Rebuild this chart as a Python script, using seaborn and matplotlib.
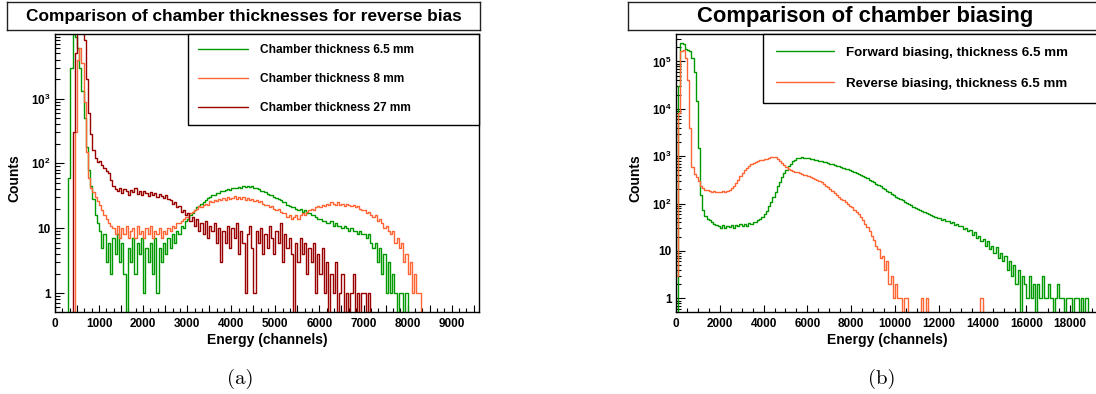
import numpy as np
import matplotlib
matplotlib.use('Agg')
import matplotlib.pyplot as plt
from matplotlib.ticker import MultipleLocator, LogLocator, FuncFormatter, NullFormatter
import seaborn as sns

# ---- data ----
# panel (a): 50-channel bins from 0 to 9700
bin_a = 50
green_a = ([0] * 6 +
           [60, 3000, 12000, 9000, 6000, 3000, 1300, 500, 180, 80, 45, 28, 16, 12,
            9, 5, 8, 3, 6, 2, 7, 4, 8, 3, 6, 2, 0, 5, 3, 7, 2, 6, 4, 7,
            1, 5, 3, 6, 2, 7, 1, 5, 3, 6, 4, 7, 5, 8, 6, 9, 8, 11, 10, 13,
            14, 16, 17, 19, 21, 22, 24, 25, 27, 29, 30, 32, 33, 35, 35, 37,
            38, 39, 40, 39, 41, 42, 41, 43, 42, 44, 43, 45, 43, 44, 42, 41,
            40, 38, 37, 36, 34, 33, 32, 30, 29, 28, 27, 25, 25, 23, 22, 21,
            21, 20, 19, 20, 18, 19, 17, 17, 16, 16, 15, 14, 14, 13, 13, 12,
            12, 13, 11, 12, 11, 11, 10, 11, 10, 9, 10, 9, 9, 8, 9, 8,
            8, 7, 8, 6, 5, 6, 3, 5, 2, 4, 1, 3, 1, 2, 1, 0, 1, 1, 0, 1] +
           [0] * 34)
orange_a = ([0] * 9 +
            [300, 4000, 6000, 3500, 900, 150, 60, 42, 36, 30, 26,
             23, 19, 16, 14, 12, 11, 10,
             8, 11, 7, 10, 8, 11, 7, 9, 10, 7, 11, 8, 9, 7, 10, 8, 11, 7,
             9, 8, 10, 7, 9, 8, 10,
             9, 11, 10, 12, 12, 13, 14, 15, 15, 17, 18, 19, 20, 22, 21, 23,
             24, 23, 26, 25, 27, 26, 28, 27, 29, 27, 30, 28, 29, 31, 28, 30,
             28, 30, 27, 29, 27, 28, 26, 27, 25, 26, 24, 23, 23, 21, 22, 20,
             19, 20, 18, 17, 17, 15, 16, 14, 15, 16, 14, 16, 17, 16, 18, 19,
             20, 19, 21, 22, 21, 23, 22, 24, 23, 25, 24, 23, 25, 23, 24, 22,
             24, 23, 22, 23, 21, 22, 20, 19, 19, 17, 18, 16, 15, 16, 13, 14,
             12, 10, 11, 9, 8, 9, 6, 7, 5, 6, 3, 4, 2, 3, 1, 2, 1, 1] +
            [0] * 28)
red_a = ([0] * 8 +
         [300, 5000, 15000, 15000, 15000, 8000, 2000, 600, 280, 160, 120, 105,
          110, 95, 85, 75, 70, 55, 45, 40,
          38, 42, 35, 40, 37, 33, 39, 36, 41, 34, 38, 32, 37, 35, 31, 36,
          33, 35, 30, 34, 31, 29, 32, 28,
          27, 24, 25, 21, 22, 18, 19, 16, 17, 13, 15, 11, 14, 9, 12, 8,
          13, 7, 11, 9, 12, 6, 10, 3, 9, 6, 11, 5, 10, 7, 12, 4,
          9, 6, 1, 8, 11, 5, 1, 9, 6, 10, 4, 8, 5, 11, 7, 4,
          9, 6, 12, 3, 8, 5, 7, 4, 0, 6, 3, 7, 4, 6, 2, 5,
          3, 6, 1, 4, 2, 5, 1, 3, 0, 2, 1, 3, 0, 1, 2, 0,
          1, 0, 1, 2, 0, 1, 0, 1, 1, 0, 1] +
         [0] * 51)
labels_a = ['Chamber thickness 6.5 mm', 'Chamber thickness 8 mm', 'Chamber thickness 27 mm']

# panel (b): 100-channel bins from 0 to 19300
bin_b = 100
forward_b = [0, 30000, 250000, 230000, 180000, 175000, 170000, 120000, 60000, 15000,
             1500, 150, 75, 55, 48, 44, 40, 38, 36, 34,
             31, 35, 30, 34, 32, 36, 31, 35, 33, 37,
             34, 38, 33, 39, 37, 41, 40, 44, 47, 52,
             60, 70, 88, 110, 140, 180, 230, 290, 360, 440,
             520, 610, 700, 780, 850, 900, 930, 940, 935, 920,
             905, 890, 870, 850, 830, 810, 790, 770, 745, 720,
             690, 670, 650, 630, 610, 590, 570, 550, 525, 500,
             480, 460, 440, 420, 400, 380, 360, 340, 320, 300,
             280, 262, 245, 230, 215, 200, 188, 175, 162, 150,
             140, 132, 124, 117, 110, 104, 97, 92, 86, 82,
             78, 74, 70, 66, 64, 60, 58, 54, 52, 50,
             49, 45, 47, 42, 43, 39, 40, 35, 37, 33,
             34, 29, 31, 26, 28, 22, 25, 19, 21, 16,
             18, 13, 16, 11, 13, 9, 12, 7, 9, 6,
             8, 4, 6, 3, 5, 2, 4, 0, 3, 2,
             1, 3, 1, 2, 0, 2, 1, 3, 1, 1,
             2, 1, 0, 1, 2, 1, 1, 0, 1, 1,
             1, 0, 1, 1, 0, 1, 0, 1, 0, 0,
             0, 0, 0]
reverse_b = ([3, 8000, 170000, 175000, 120000, 40000, 4000, 600, 420, 360,
              300, 240, 210, 195, 190, 182, 178, 185, 175, 180,
              176, 182, 178, 185, 195, 210, 235, 270, 320, 380,
              440, 500, 560, 620, 680, 720, 760, 790, 820, 840,
              860, 890, 930, 960, 970, 940, 880, 800, 720, 650,
              590, 550, 520, 495, 475, 455, 440, 425, 410, 395,
              380, 365, 350, 335, 315, 295, 280, 260, 240, 220,
              200, 185, 168, 150, 138, 128, 118, 108, 98, 90,
              85, 75, 66, 60, 52, 44, 38, 32, 26, 21,
              17, 13, 11, 7, 8, 4, 6, 2, 3, 1,
              2, 1, 1, 0, 1, 1] +
             [0] * 6 + [1, 0, 1] + [0] * 24 + [1] + [0] * 53)
labels_b = ['Forward biasing, thickness 6.5 mm', 'Reverse biasing, thickness 6.5 mm']

GREEN = '#009900'
ORANGE = '#ff6633'
DARKRED = '#990000'

sns.set_theme(style='white')
plt.rcParams['font.family'] = ['Liberation Sans', 'DejaVu Sans']
plt.rcParams['font.weight'] = 'bold'
plt.rcParams['text.color'] = 'black'
plt.rcParams['axes.labelcolor'] = 'black'
plt.rcParams['xtick.color'] = 'black'
plt.rcParams['ytick.color'] = 'black'
plt.rcParams['mathtext.fontset'] = 'custom'
plt.rcParams['mathtext.rm'] = 'Liberation Sans:bold'
plt.rcParams['mathtext.bf'] = 'Liberation Sans:bold'
plt.rcParams['mathtext.default'] = 'bf'

W, H = 1096, 394
fig = plt.figure(figsize=(W / 100, H / 100), dpi=100)
fig.patch.set_facecolor('white')


def px_box(x0, y0, x1, y1):
    return [x0 / W, 1 - y1 / H, (x1 - x0) / W, (y1 - y0) / H]


def draw_hist(ax, counts, width, color, label):
    centers = np.arange(len(counts)) * width + width / 2
    sns.lineplot(x=centers, y=np.array(counts, dtype=float), ax=ax, color=color,
                 lw=1.0, drawstyle='steps-mid', label=label, legend=False)


def log_label(v, pos):
    e = int(round(np.log10(v)))
    if e == 0:
        return '1'
    if e == 1:
        return '10'
    return r'$10^{%d}$' % e


def style_axes(ax, ylim, xmax, major, minor, label_every):
    ax.set_yscale('log', nonpositive='clip')
    ax.set_ylim(*ylim)
    ax.set_xlim(0, xmax)
    ax.yaxis.set_major_locator(LogLocator(base=10, numticks=12))
    ax.yaxis.set_minor_locator(LogLocator(base=10, subs=np.arange(2, 10), numticks=12))
    ax.yaxis.set_major_formatter(FuncFormatter(log_label))
    ax.yaxis.set_minor_formatter(NullFormatter())
    ax.xaxis.set_major_locator(MultipleLocator(major))
    ax.xaxis.set_minor_locator(MultipleLocator(minor))
    ax.xaxis.set_major_formatter(FuncFormatter(
        lambda v, p: '%d' % round(v) if round(v) % label_every == 0 else ''))
    ax.tick_params(axis='both', which='both', direction='in', top=False, right=False,
                   bottom=True, left=True, labelsize=8.5, color='black', labelcolor='black',
                   width=0.8)
    ax.tick_params(axis='y', which='major', length=6.5, pad=3)
    ax.tick_params(axis='y', which='minor', length=3.6)
    ax.tick_params(axis='x', which='major', length=5, pad=4)
    ax.tick_params(axis='x', which='minor', length=2.8)
    for s in ax.spines.values():
        s.set_color('black')
        s.set_linewidth(1.0)
    ax.set_xlabel('Energy (channels)', fontsize=10, fontweight='bold', color='black')
    ax.set_ylabel('Counts', fontsize=10, fontweight='bold', color='black')
    ax.xaxis.set_label_coords(0.5, -0.075)
    ax.xaxis.label.set_va('top')


def title_box(rect, text, size):
    t = fig.add_axes(rect)
    t.set_xticks([])
    t.set_yticks([])
    for s in t.spines.values():
        s.set_color('#222222')
        s.set_linewidth(1.0)
    t.text(0.5, 0.47, text, ha='center', va='center', fontsize=size, fontweight='bold',
           color='black', transform=t.transAxes)


# ---- panel (a) ----
ax_a = fig.add_axes(px_box(55, 34, 479, 312))
for counts, col, lab in zip([green_a, orange_a, red_a], [GREEN, ORANGE, DARKRED], labels_a):
    draw_hist(ax_a, counts, bin_a, col, lab)
style_axes(ax_a, (0.51, 9.9e3), 9620, 500, 500 / 3, 1000)
ax_a.yaxis.set_label_coords(-0.08, 0.48)
leg = ax_a.legend(loc='upper left', bbox_to_anchor=(133 / 424, 0, 291 / 424, 1), mode='expand',
                  borderaxespad=0, fancybox=False, framealpha=1, edgecolor='black',
                  handlelength=4.2, handletextpad=1.0, labelspacing=1.42,
                  borderpad=0.88, prop={'weight': 'bold', 'size': 8.55})
leg.get_frame().set_linewidth(1.0)
for h in leg.get_lines():
    h.set_linewidth(1.0)
title_box(px_box(7, 2, 480, 30), 'Comparison of chamber thicknesses for reverse bias', 12.4)

# ---- panel (b) ----
ax_b = fig.add_axes(px_box(676, 34, 1099, 312))
for counts, col, lab in zip([forward_b, reverse_b], [GREEN, ORANGE], labels_b):
    draw_hist(ax_b, counts, bin_b, col, lab)
style_axes(ax_b, (0.515, 3.8e5), 19320, 2000, 500, 2000)
ax_b.yaxis.set_label_coords(-0.08, 0.48)
leg = ax_b.legend(loc='upper left', bbox_to_anchor=(87 / 423, 0, 336 / 423, 1), mode='expand',
                  borderaxespad=0, fancybox=False, framealpha=1, edgecolor='black',
                  handlelength=4.4, handletextpad=0.9, labelspacing=1.4,
                  borderpad=0.95, prop={'weight': 'bold', 'size': 9.6})
leg.get_frame().set_linewidth(1.0)
for h in leg.get_lines():
    h.set_linewidth(1.0)
title_box(px_box(628, 2, 1103, 30), 'Comparison of chamber biasing', 15.8)

# sub-figure captions
fig.text(240 / W, 1 - 379 / H, '(a)', family='cmr10', fontsize=15, ha='center', va='center')
fig.text(882 / W, 1 - 379 / H, '(b)', family='cmr10', fontsize=15, ha='center', va='center')

fig.savefig('out.png', dpi=100, facecolor='white')
